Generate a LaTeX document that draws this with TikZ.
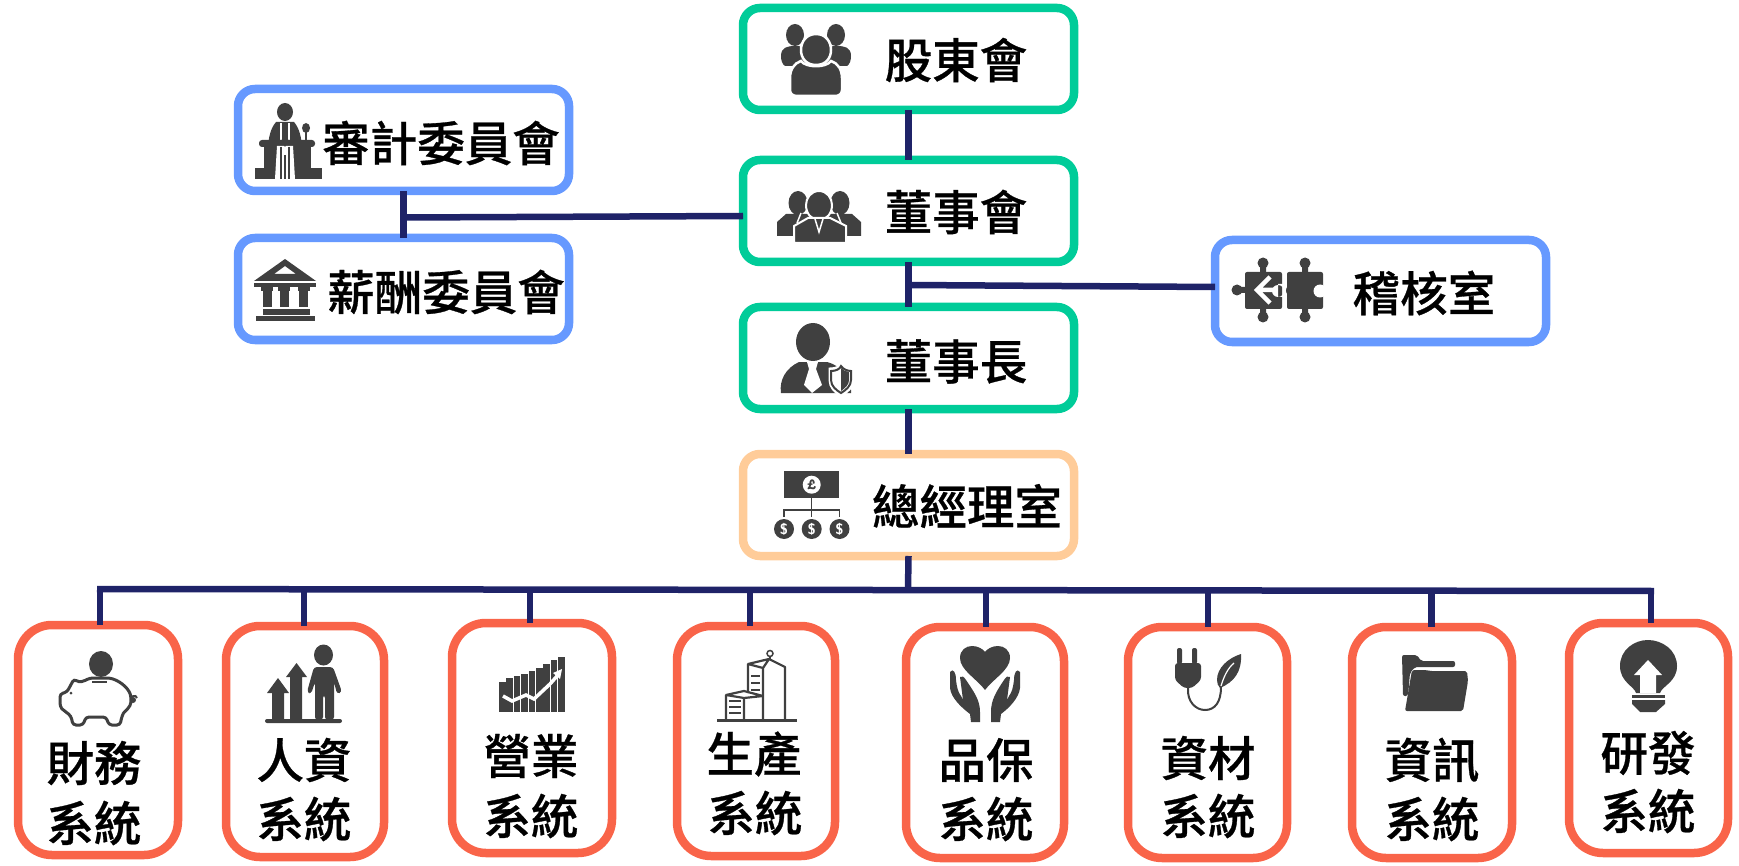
\documentclass[tikz,border=0pt]{standalone}
\usepackage{fontspec}
\newfontfamily\cjk[BoldFont={Noto Sans CJK TC Medium},BoldFeatures={FakeBold=0.6}]{Noto Sans CJK TC}
\definecolor{gr}{HTML}{00CC99}
\definecolor{bl}{HTML}{6699FF}
\definecolor{pe}{HTML}{FFCC99}
\definecolor{co}{HTML}{F96449}
\definecolor{ln}{HTML}{1F2368}
\definecolor{ic}{HTML}{404040}
\tikzset{
 wbox/.style={draw=#1,line width=8.5pt,fill=white,rounded corners=17pt,minimum width=331pt,minimum height=102pt,inner sep=0pt,outer sep=0pt},
 sbox/.style={draw=co,line width=8.5pt,fill=white,rounded corners=34pt,minimum width=159pt,minimum height=230pt,inner sep=0pt,outer sep=0pt},
 lab/.style={font=\cjk\bfseries\fontsize{47.5}{48}\selectfont,text=black,inner sep=0pt,outer sep=0pt},
 conn/.style={draw=ln,line width=6.5pt},
 iline/.style={draw=ic,fill=none,line width=#1},
 wline/.style={draw=white,fill=none,line width=#1},
}
\begin{document}
\begin{tikzpicture}[x=1pt,y=-1pt]
\useasboundingbox (0,0) rectangle (1739,866);
% boxes
\node[wbox=gr] (gdh) at (908.5,59) {};
\node[wbox=gr] (dsh) at (908.5,211) {};
\node[wbox=gr] (dsz) at (908.5,358) {};
\node[wbox=pe] (zj) at (908.5,505) {};
\node[wbox=bl] (sj) at (403.5,140) {};
\node[wbox=bl] (xc) at (403.5,289) {};
\node[wbox=bl] (jh) at (1380.5,291) {};
\node[sbox,minimum width=160pt,minimum height=230pt] (b1) at (98,740) {};
\node[sbox,minimum width=158pt,minimum height=231pt] (b2) at (305,741.5) {};
\node[sbox,minimum width=160pt,minimum height=230pt] (b3) at (532,738) {};
\node[sbox,minimum width=158pt,minimum height=230pt] (b4) at (756,741) {};
\node[sbox,minimum width=158pt,minimum height=231pt] (b5) at (985,742.5) {};
\node[sbox,minimum width=159pt,minimum height=231pt] (b6) at (1207.5,742.5) {};
\node[sbox,minimum width=160pt,minimum height=231pt] (b7) at (1432,742.5) {};
\node[sbox,minimum width=159pt,minimum height=230pt] (b8) at (1648.5,738) {};
% connectors
\coordinate (j1) at (404,217.5);
\coordinate (j2) at (908,285);
\coordinate (busl) at (97,589);
\coordinate (busr) at (1654,591);
\coordinate (busm) at (908,590);
\coordinate (t1) at (100,589);
\coordinate (t2) at (304,589);
\coordinate (t3) at (530,589);
\coordinate (t4) at (750,590);
\coordinate (t5) at (986,590);
\coordinate (t6) at (1208,590);
\coordinate (t7) at (1431.5,590);
\coordinate (t8) at (1651,591);
\draw[conn] (gdh.south) -- (dsh.north);
\draw[conn] (dsh.south) -- (dsz.north);
\draw[conn] (dsz.south) -- (zj.north);
\draw[conn] (zj.south) -- (busm);
\draw[conn] (sj.south) -- (xc.north);
\draw[conn] (j1) -- ([yshift=-5pt]dsh.west);
\draw[conn] (j2) -- ([yshift=4pt]jh.west);
\draw[conn] (busl) -- (busr);
\foreach \i in {1,...,8}{\draw[conn] (t\i) -- (t\i |- b\i.north);}
% labels
\node[lab] (l1) at (956,60) {股東會};
\node[lab] (l2) at (956,212) {董事會};
\node[lab] (l3) at (956,361.5) {董事長};
\node[lab] (l4) at (967,506) {總經理室};
\node[lab] (l5) at (441,143) {審計委員會};
\node[lab] (l6) at (446,292) {薪酬委員會};
\node[lab] (l7) at (1424,293) {稽核室};
\node[lab] (a1) at (94,763) {財務};
\node[lab] (c1) at (94,823) {系統};
\node[lab] (a2) at (304,760) {人資};
\node[lab] (c2) at (304,819) {系統};
\node[lab] (a3) at (531,756) {營業};
\node[lab] (c3) at (531,816) {系統};
\node[lab] (a4) at (754,754) {生產};
\node[lab] (c4) at (755,813) {系統};
\node[lab] (a5) at (986,760) {品保};
\node[lab] (c5) at (986,819) {系統};
\node[lab] (a6) at (1208,758) {資材};
\node[lab] (c6) at (1208,816) {系統};
\node[lab] (a7) at (1432,760) {資訊};
\node[lab] (c7) at (1432,819) {系統};
\node[lab] (a8) at (1648,753) {研發};
\node[lab] (c8) at (1648,811) {系統};
% --- icons
% shareholders
\fill[ic] (795,35) ellipse (9 and 11) (836,35) ellipse (9 and 11);
\fill[ic] (781,56) .. controls (781,47) and (788,46) .. (795,46) .. controls (802,46) and (809,47) .. (809,56) -- (805,66) -- (785,66) .. controls (782,64) and (781,60) .. (781,56) -- cycle;
\fill[ic] (823,56) .. controls (823,47) and (830,46) .. (837,46) .. controls (844,46) and (851,47) .. (851,56) .. controls (851,60) and (850,64) .. (847,66) -- (827,66) -- cycle;
\path[draw=white,line width=2.5pt,fill=ic] (816,34) .. controls (826,34) and (831,42) .. (831,50) .. controls (831,58) and (826,65) .. (816,65) .. controls (806,65) and (801,58) .. (801,50) .. controls (801,42) and (806,34) .. (816,34) -- cycle;
\path[draw=white,line width=2.5pt,fill=ic] (801,61) .. controls (806,68) and (826,68) .. (831,61) .. controls (838,63) and (842,70) .. (842,78) -- (842,90) .. controls (842,94) and (839,96) .. (835,96) -- (797,96) .. controls (793,96) and (790,94) .. (790,90) -- (790,78) .. controls (790,70) and (794,63) .. (801,61) -- cycle;
% board
\foreach \x in {798,840}{
 \fill[ic] (\x,203) ellipse (9.5 and 12);
 \fill[ic] (\x-12,214) -- (\x+12,214) -- (\x+21,222) -- (\x+21,236) -- (\x-21,236) -- (\x-21,222) -- cycle;
}
\path[draw=white,line width=2pt,fill=ic] (819,191) .. controls (827,191) and (832,198) .. (832,205) .. controls (832,213) and (827,220) .. (819,220) .. controls (811,220) and (806,213) .. (806,205) .. controls (806,198) and (811,191) .. (819,191) -- cycle;
\path[draw=white,line width=2pt,fill=ic] (808,218) -- (830,218) -- (846,226) -- (846,243) -- (794,243) -- (794,226) -- cycle;
\draw[wline=1.5pt] (815,219) -- (819,232) -- (823,219) (797,223) -- (801,213) (841,223) -- (837,213);
% chairman
\fill[ic] (813,342) ellipse (17 and 19);
\fill[ic] (799,362) -- (827,362) .. controls (842,366) and (851,378) .. (851,390) -- (851,393) -- (781,393) .. controls (779,380) and (786,368) .. (799,362) -- cycle;
\path[fill=white] (807,362) -- (818,362) -- (816,369) -- (822,385) -- (812,393) -- (804,385) -- (809,369) -- cycle;
\path[fill=white,draw=white,line width=3pt] (830,369) .. controls (836,369) and (840,367) .. (841,364) .. controls (843,367) and (848,369) .. (853,369) -- (853,380) .. controls (853,387) and (847,392) .. (841,395) .. controls (835,392) and (830,387) .. (830,380) -- cycle;
\path[draw=ic,line width=2pt,fill=white] (831,371) .. controls (836,371) and (840,369) .. (841,366) .. controls (843,369) and (847,371) .. (851,371) -- (851,380) .. controls (851,386) and (846,390) .. (841,393) .. controls (836,390) and (831,386) .. (831,380) -- cycle;
\fill[ic] (841,368) .. controls (843,370) and (846,372) .. (849,372) -- (849,380) .. controls (849,385) and (845,388) .. (841,391) -- cycle;
% audit speaker
\fill[ic] (285,112) ellipse (8 and 9);
\fill[ic] (276,122) -- (294,122) .. controls (300,129) and (301,138) .. (302,145) -- (268,145) .. controls (269,138) and (270,129) .. (276,122) -- cycle;
\draw[wline=1.5pt] (281,123) -- (281,140) (289,123) -- (289,140);
\fill[ic] (306,128) ellipse (4 and 5);
\draw[iline=2pt] (306,130) -- (306,141);
\fill[ic,rounded corners=3pt] (259,140) rectangle (315,147);
\fill[ic] (264,147) rectangle (311,168);
\fill[ic] (255,168) rectangle (322,179);
\fill[white] (277,146) -- (293,146) -- (295,179) -- (275,179) -- cycle;
\draw[iline=1.5pt] (281,147) -- (281,179) (289,147) -- (289,179) (285,155) -- (285,179);
\fill[ic] (281,140) -- (289,140) -- (285,147) -- cycle;
% bank
\fill[ic,even odd rule] (285,259) -- (316,281) -- (254,281) -- cycle (285,266) -- (274,274) -- (296,274) -- cycle;
\fill[ic] (254,283) rectangle (316,287);
\foreach \x in {262.5,279.5,299}{\fill[ic] (\x-1.5,287) rectangle (\x+10.5,291); \fill[ic] (\x,291) rectangle (\x+9,307);}
\fill[ic] (263,309) rectangle (310,315);
\fill[ic] (256,316) rectangle (315,321);
% chairman office
\fill[ic] (784,471) rectangle (839,498);
\fill[white] (811.7,484.7) circle (9);
\node[inner sep=0pt,text=ic,font=\fontsize{14}{14}\selectfont\bfseries\sffamily] (pound) at (811.7,484.7) {£};
\draw[draw=ic,line width=1.5pt] (811.7,498) -- (811.7,517) (784,517) -- (784,510) -- (839.7,510) -- (839.7,517);
\foreach \x/\n in {784/d1,811.7/d2,839.5/d3}{
 \fill[ic] (\x,529) circle (10);
 \node[inner sep=0pt,text=white,font=\fontsize{15}{15}\selectfont\bfseries\sffamily] (\n) at (\x,529) {\$};
}
% puzzle
\fill[ic] (1263,263) circle (5.5) (1305,263) circle (5.5) (1263,317) circle (5.5) (1305,317) circle (5.5) (1237,290) circle (5.5);
\fill[ic] (1260,264) rectangle (1266,275) (1302,264) rectangle (1308,275) (1260,305) rectangle (1266,316) (1302,305) rectangle (1308,316) (1238,287) rectangle (1248,293);
\fill[ic,rounded corners=2pt] (1245,272) rectangle (1282,309);
\fill[ic,rounded corners=2pt] (1287,272) rectangle (1323,309);
\fill[white] (1278,284) rectangle (1284,297) (1278,291) circle (6);
\fill[ic] (1287,283) rectangle (1293,297) (1292,290.5) circle (6);
\fill[white] (1320,291) circle (6.5);
\fill[white] (1316,288) rectangle (1324,294);
\draw[wline=4.5pt] (1270,277) -- (1257,290) -- (1270,303) (1257,290) -- (1274,290);
% piggy
\fill[ic] (101,664) ellipse (12 and 13);
\draw[draw=ic,line width=3pt,fill=white,rounded corners=3pt] (74,679) .. controls (80,683) and (84,681) .. (90,678) -- (110,678) .. controls (122,682) and (130,690) .. (131,699) .. controls (131,707) and (124,712) .. (122,716) -- (120,725) -- (109,725) -- (106,717) -- (86,717) -- (83,725) -- (73,725) -- (71,716) .. controls (66,712) and (62,709) .. (60,706) -- (60,694) -- (67,692) -- cycle;
\draw[draw=ic,line width=2.5pt] (92,682) -- (107,682);
\fill[ic] (133,700) circle (3);
\draw[draw=ic,line width=2pt] (131,697) .. controls (135,695) and (137,696) .. (137,698);
\fill[ic] (71,693) circle (1.5);
% people arrows
\fill[ic] (323.5,655) ellipse (9.5 and 10.5);
\fill[ic,rounded corners=3pt] (314,667) -- (333,667) -- (342,692) -- (337,694) -- (334,682) -- (334,720) -- (325,720) -- (325,695) -- (323,695) -- (323,720) -- (315,720) -- (315,682) -- (311,694) -- (307,692) -- cycle;
\fill[ic] (278,678) -- (289,693) -- (284,693) -- (284,720) -- (272,720) -- (272,693) -- (267,693) -- cycle;
\fill[ic] (296.5,663) -- (307,677) -- (302,677) -- (302,720) -- (290,720) -- (290,677) -- (286,677) -- cycle;
\fill[ic,rounded corners=2pt] (265,719) rectangle (342,723);
% sales
\foreach \i/\h in {0/682,1/678,2/676,3/674,4/671,5/668,6/664,7/660,8/657}{\fill[ic] (499+7.4*\i,\h) rectangle (499+7.4*\i+6.6,712);}
\draw[wline=3.5pt] (503,696) -- (512,701) -- (526,695) -- (534,699) -- (550,684) -- (558,675);
\fill[white] (562,669) -- (553,673) -- (560,679) -- cycle;
% buildings
\draw[draw=ic,line width=2.2pt,line join=round] (748,693) -- (748,664) -- (769,659) -- (785,667) -- (785,720) (763,720) -- (763,668) (748,664) -- (763,668) -- (769,659);
\draw[draw=ic,line width=2.2pt] (770,659) -- (770,657);
\draw[draw=ic,line width=1.5pt] (770,653.5) circle (3);
\draw[draw=ic,line width=2.2pt,line join=round] (726,720) -- (726,695) -- (744,691) -- (763,696) (744,720) -- (744,698) (726,695) -- (744,698) -- (763,696);
\draw[draw=ic,line width=2.5pt] (717,720.5) -- (797,720.5);
\foreach \y in {676,683,690}{\draw[draw=ic,line width=2.5pt] (751,\y) -- (760,\y);}
\foreach \y in {701,707,713}{\draw[draw=ic,line width=2.5pt] (729,\y) -- (741,\y);}
% heart hands
\fill[ic] (985,690) .. controls (977,679) and (960,670) .. (960,658) .. controls (960,650) and (966,646) .. (972,646) .. controls (978,646) and (983,649) .. (985,652) .. controls (987,649) and (992,646) .. (998,646) .. controls (1004,646) and (1010,650) .. (1010,658) .. controls (1010,670) and (993,679) .. (985,690) -- cycle;
\fill[ic] (950,672) .. controls (953,668) and (956,672) .. (956,680) .. controls (957,688) and (958,692) .. (961,696) -- (963,700) -- (960,677) .. controls (962,675) and (964,677) .. (966,680) .. controls (974,692) and (980,700) .. (980,712) -- (980,722) -- (971,722) -- (970,714) .. controls (962,708) and (951,698) .. (950,688) -- cycle;
\fill[ic] (1020,672) .. controls (1017,668) and (1014,672) .. (1014,680) .. controls (1013,688) and (1012,692) .. (1009,696) -- (1007,700) -- (1010,677) .. controls (1008,675) and (1006,677) .. (1004,680) .. controls (996,692) and (991,700) .. (991,712) -- (991,722) -- (1000,722) -- (1001,714) .. controls (1009,708) and (1019,698) .. (1020,688) -- cycle;
% plug and leaf
\fill[ic,rounded corners=2pt] (1177,648) rectangle (1182,664) (1192,648) rectangle (1197,664);
\fill[ic,rounded corners=3pt] (1175,663) -- (1201,663) -- (1201,680) -- (1192,688) -- (1184,688) -- (1175,680) -- cycle;
\draw[draw=ic,line width=2pt] (1188,688) .. controls (1187,702) and (1196,710) .. (1205,710) .. controls (1215,710) and (1221,702) .. (1221,687);
\fill[ic] (1241,654) .. controls (1228,658) and (1217,668) .. (1217,680) .. controls (1217,683) and (1218,686) .. (1220,688) .. controls (1234,682) and (1242,672) .. (1241,654) -- cycle;
\draw[wline=1.2pt] (1221,686) .. controls (1224,676) and (1228,668) .. (1234,663);
% folder
\fill[ic,rounded corners=2pt] (1402,655) -- (1417,655) -- (1421,661) -- (1455,661) -- (1455,667) -- (1415,667) -- (1410,673) -- (1408,696) -- (1403,696) -- cycle;
\fill[ic,rounded corners=2pt] (1412,670) -- (1426,670) -- (1430,671) -- (1467,671) -- (1468,681) -- (1463,711) -- (1405,711) -- cycle;
% bulb
\fill[ic] (1636,693) .. controls (1634,686) and (1620,682) .. (1620,666) .. controls (1620,650) and (1634,640) .. (1648,640) .. controls (1662,640) and (1677,650) .. (1677,666) .. controls (1677,682) and (1662,686) .. (1660,693) -- cycle;
\fill[ic] (1632,695) rectangle (1665,698);
\fill[ic] (1632,700) -- (1665,700) -- (1665,704) -- (1656,712) -- (1640,712) -- (1632,704) -- cycle;
\fill[white] (1648,660) -- (1662,675) -- (1656,675) -- (1656,693) -- (1640,693) -- (1640,675) -- (1634,675) -- cycle;
\end{tikzpicture}
\end{document}
